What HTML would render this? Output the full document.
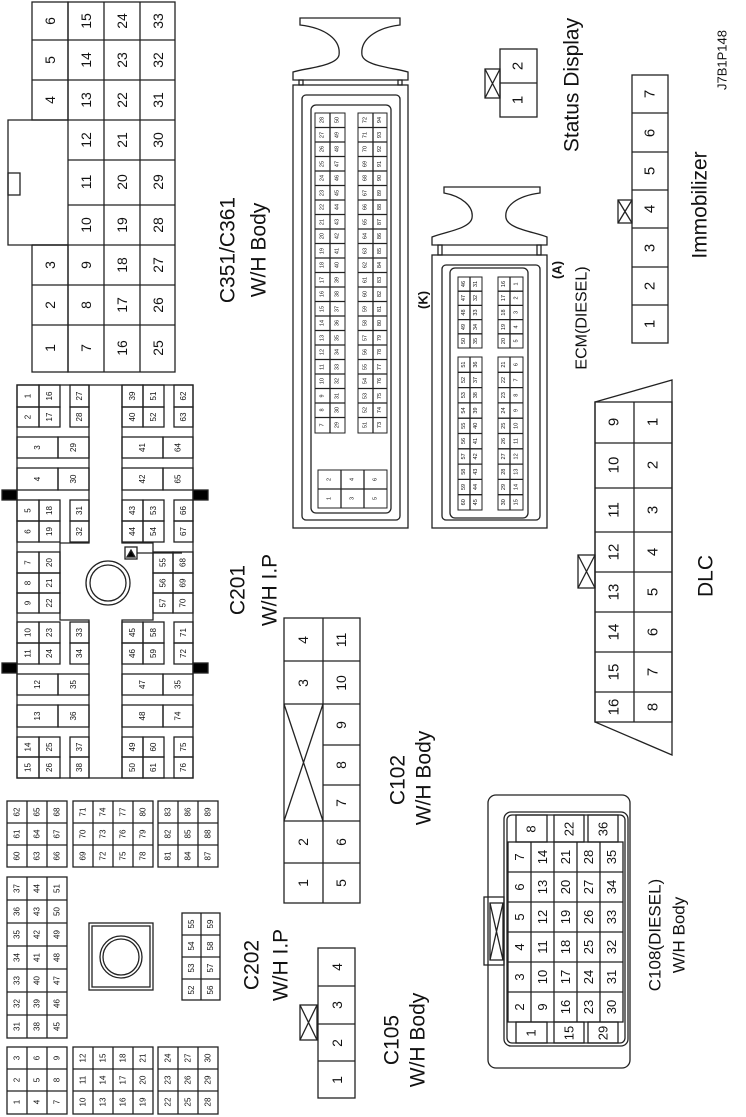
<!DOCTYPE html>
<html><head><meta charset="utf-8"><style>
html,body{margin:0;padding:0;background:#fff}
svg{display:block}
text{font-family:"Liberation Sans",Arial,sans-serif;text-anchor:middle;dominant-baseline:central;fill:#111}
rect,path,line,circle,polyline{fill:none;stroke:#222;stroke-width:1.3}
.s8 text{font-size:8px}
.s14 text{font-size:14px}
.s5 text{font-size:5.5px}
.s5 rect{stroke-width:1}
.big{font-size:21px}
</style></head><body>
<svg width="746" height="1117" viewBox="0 0 746 1117" xmlns="http://www.w3.org/2000/svg">

<!-- C351/C361 -->
<g class="s14">
<rect x="68" y="2" width="107" height="370"/>
<rect x="32" y="2" width="36" height="118"/>
<rect x="32" y="245" width="36" height="127"/>
<path d="M68,120 H8 V245 H68"/>
<rect x="8" y="173" width="12" height="22"/>
<path d="M32,40H175M32,80H175M68,120H175M68,160H175M68,205H175M32,245H175M32,285H175M32,325H175M104,2V372M140,2V372"/>
<text transform="translate(50,21)rotate(-90)">6</text><text transform="translate(50,60)rotate(-90)">5</text><text transform="translate(50,100)rotate(-90)">4</text>
<text transform="translate(50,265)rotate(-90)">3</text><text transform="translate(50,305)rotate(-90)">2</text><text transform="translate(50,348)rotate(-90)">1</text>
<text transform="translate(86,21)rotate(-90)">15</text><text transform="translate(86,60)rotate(-90)">14</text><text transform="translate(86,100)rotate(-90)">13</text><text transform="translate(86,140)rotate(-90)">12</text><text transform="translate(86,182)rotate(-90)">11</text><text transform="translate(86,225)rotate(-90)">10</text><text transform="translate(86,265)rotate(-90)">9</text><text transform="translate(86,305)rotate(-90)">8</text><text transform="translate(86,348)rotate(-90)">7</text>
<text transform="translate(122,21)rotate(-90)">24</text><text transform="translate(122,60)rotate(-90)">23</text><text transform="translate(122,100)rotate(-90)">22</text><text transform="translate(122,140)rotate(-90)">21</text><text transform="translate(122,182)rotate(-90)">20</text><text transform="translate(122,225)rotate(-90)">19</text><text transform="translate(122,265)rotate(-90)">18</text><text transform="translate(122,305)rotate(-90)">17</text><text transform="translate(122,348)rotate(-90)">16</text>
<text transform="translate(158,21)rotate(-90)">33</text><text transform="translate(158,60)rotate(-90)">32</text><text transform="translate(158,100)rotate(-90)">31</text><text transform="translate(158,140)rotate(-90)">30</text><text transform="translate(158,182)rotate(-90)">29</text><text transform="translate(158,225)rotate(-90)">28</text><text transform="translate(158,265)rotate(-90)">27</text><text transform="translate(158,305)rotate(-90)">26</text><text transform="translate(158,348)rotate(-90)">25</text>
</g>
<text class="big" transform="translate(228,250)rotate(-90)">C351/C361</text>
<text class="big" transform="translate(259,250)rotate(-90)">W/H Body</text>

<!-- C201 -->
<g class="s8">
<rect x="17" y="385" width="176" height="393"/>
<path d="M89,385V543H60V620H89V778M122,385V543H153V620H122V778"/>
<rect x="2" y="490" width="15" height="10" style="fill:#000"/><rect x="2" y="663" width="15" height="10" style="fill:#000"/>
<rect x="193" y="490" width="15" height="10" style="fill:#000"/><rect x="193" y="663" width="15" height="10" style="fill:#000"/>
<circle cx="108" cy="583" r="22"/><circle cx="108" cy="583" r="18"/>
<rect x="125" y="547" width="12" height="12"/><path d="M127,557L131,550L135,557Z" style="fill:#000"/><path d="M137,553H182"/>
<!-- left -->
<rect x="17" y="385" width="22" height="22"/><rect x="39" y="385" width="21" height="22"/><rect x="70" y="385" width="19" height="22"/>
<text transform="translate(28,396)rotate(-90)">1</text><text transform="translate(49.5,396)rotate(-90)">16</text><text transform="translate(79.5,396)rotate(-90)">27</text>
<rect x="17" y="407" width="22" height="20"/><rect x="39" y="407" width="21" height="20"/><rect x="70" y="407" width="19" height="20"/>
<text transform="translate(28,417)rotate(-90)">2</text><text transform="translate(49.5,417)rotate(-90)">17</text><text transform="translate(79.5,417)rotate(-90)">28</text>
<rect x="17" y="437" width="41" height="21"/><rect x="58" y="437" width="31" height="21"/>
<text transform="translate(37.5,447.5)rotate(-90)">3</text><text transform="translate(73.5,447.5)rotate(-90)">29</text>
<rect x="17" y="468" width="41" height="22"/><rect x="58" y="468" width="31" height="22"/>
<text transform="translate(37.5,479)rotate(-90)">4</text><text transform="translate(73.5,479)rotate(-90)">30</text>
<rect x="17" y="500" width="22" height="21"/><rect x="39" y="500" width="21" height="21"/><rect x="70" y="500" width="19" height="21"/>
<text transform="translate(28,510.5)rotate(-90)">5</text><text transform="translate(49.5,510.5)rotate(-90)">18</text><text transform="translate(79.5,510.5)rotate(-90)">31</text>
<rect x="17" y="521" width="22" height="21"/><rect x="39" y="521" width="21" height="21"/><rect x="70" y="521" width="19" height="21"/>
<text transform="translate(28,531.5)rotate(-90)">6</text><text transform="translate(49.5,531.5)rotate(-90)">19</text><text transform="translate(79.5,531.5)rotate(-90)">32</text>
<rect x="17" y="552" width="22" height="21"/><rect x="39" y="552" width="21" height="21"/>
<text transform="translate(28,562.5)rotate(-90)">7</text><text transform="translate(49.5,562.5)rotate(-90)">20</text>
<rect x="17" y="573" width="22" height="20"/><rect x="39" y="573" width="21" height="20"/>
<text transform="translate(28,583)rotate(-90)">8</text><text transform="translate(49.5,583)rotate(-90)">21</text>
<rect x="17" y="593" width="22" height="20"/><rect x="39" y="593" width="21" height="20"/>
<text transform="translate(28,603)rotate(-90)">9</text><text transform="translate(49.5,603)rotate(-90)">22</text>
<rect x="17" y="622" width="22" height="21"/><rect x="39" y="622" width="21" height="21"/><rect x="70" y="622" width="19" height="21"/>
<text transform="translate(28,632.5)rotate(-90)">10</text><text transform="translate(49.5,632.5)rotate(-90)">23</text><text transform="translate(79.5,632.5)rotate(-90)">33</text>
<rect x="17" y="643" width="22" height="21"/><rect x="39" y="643" width="21" height="21"/><rect x="70" y="643" width="19" height="21"/>
<text transform="translate(28,653.5)rotate(-90)">11</text><text transform="translate(49.5,653.5)rotate(-90)">24</text><text transform="translate(79.5,653.5)rotate(-90)">34</text>
<rect x="17" y="674" width="41" height="21"/><rect x="58" y="674" width="31" height="21"/>
<text transform="translate(37.5,684.5)rotate(-90)">12</text><text transform="translate(73.5,684.5)rotate(-90)">35</text>
<rect x="17" y="705" width="41" height="22"/><rect x="58" y="705" width="31" height="22"/>
<text transform="translate(37.5,716)rotate(-90)">13</text><text transform="translate(73.5,716)rotate(-90)">36</text>
<rect x="17" y="737" width="22" height="20"/><rect x="39" y="737" width="21" height="20"/><rect x="70" y="737" width="19" height="20"/>
<text transform="translate(28,747)rotate(-90)">14</text><text transform="translate(49.5,747)rotate(-90)">25</text><text transform="translate(79.5,747)rotate(-90)">37</text>
<rect x="17" y="757" width="22" height="21"/><rect x="39" y="757" width="21" height="21"/><rect x="70" y="757" width="19" height="21"/>
<text transform="translate(28,767.5)rotate(-90)">15</text><text transform="translate(49.5,767.5)rotate(-90)">26</text><text transform="translate(79.5,767.5)rotate(-90)">38</text>
<!-- right -->
<rect x="122" y="385" width="21" height="22"/><rect x="143" y="385" width="21" height="22"/><rect x="174" y="385" width="19" height="22"/>
<text transform="translate(132.5,396)rotate(-90)">39</text><text transform="translate(153.5,396)rotate(-90)">51</text><text transform="translate(183.5,396)rotate(-90)">62</text>
<rect x="122" y="407" width="21" height="20"/><rect x="143" y="407" width="21" height="20"/><rect x="174" y="407" width="19" height="20"/>
<text transform="translate(132.5,417)rotate(-90)">40</text><text transform="translate(153.5,417)rotate(-90)">52</text><text transform="translate(183.5,417)rotate(-90)">63</text>
<rect x="122" y="437" width="41" height="21"/><rect x="163" y="437" width="30" height="21"/>
<text transform="translate(142.5,447.5)rotate(-90)">41</text><text transform="translate(178,447.5)rotate(-90)">64</text>
<rect x="122" y="468" width="41" height="22"/><rect x="163" y="468" width="30" height="22"/>
<text transform="translate(142.5,479)rotate(-90)">42</text><text transform="translate(178,479)rotate(-90)">65</text>
<rect x="122" y="500" width="21" height="21"/><rect x="143" y="500" width="21" height="21"/><rect x="174" y="500" width="19" height="21"/>
<text transform="translate(132.5,510.5)rotate(-90)">43</text><text transform="translate(153.5,510.5)rotate(-90)">53</text><text transform="translate(183.5,510.5)rotate(-90)">66</text>
<rect x="122" y="521" width="21" height="21"/><rect x="143" y="521" width="21" height="21"/><rect x="174" y="521" width="19" height="21"/>
<text transform="translate(132.5,531.5)rotate(-90)">44</text><text transform="translate(153.5,531.5)rotate(-90)">54</text><text transform="translate(183.5,531.5)rotate(-90)">67</text>
<rect x="153" y="552" width="20" height="21"/><rect x="173" y="552" width="20" height="21"/>
<text transform="translate(163,562.5)rotate(-90)">55</text><text transform="translate(183,562.5)rotate(-90)">68</text>
<rect x="153" y="573" width="20" height="20"/><rect x="173" y="573" width="20" height="20"/>
<text transform="translate(163,583)rotate(-90)">56</text><text transform="translate(183,583)rotate(-90)">69</text>
<rect x="153" y="593" width="20" height="20"/><rect x="173" y="593" width="20" height="20"/>
<text transform="translate(163,603)rotate(-90)">57</text><text transform="translate(183,603)rotate(-90)">70</text>
<rect x="122" y="622" width="21" height="21"/><rect x="143" y="622" width="21" height="21"/><rect x="174" y="622" width="19" height="21"/>
<text transform="translate(132.5,632.5)rotate(-90)">45</text><text transform="translate(153.5,632.5)rotate(-90)">58</text><text transform="translate(183.5,632.5)rotate(-90)">71</text>
<rect x="122" y="643" width="21" height="21"/><rect x="143" y="643" width="21" height="21"/><rect x="174" y="643" width="19" height="21"/>
<text transform="translate(132.5,653.5)rotate(-90)">46</text><text transform="translate(153.5,653.5)rotate(-90)">59</text><text transform="translate(183.5,653.5)rotate(-90)">72</text>
<rect x="122" y="674" width="41" height="21"/><rect x="163" y="674" width="30" height="21"/>
<text transform="translate(142.5,684.5)rotate(-90)">47</text><text transform="translate(178,684.5)rotate(-90)">35</text>
<rect x="122" y="705" width="41" height="22"/><rect x="163" y="705" width="30" height="22"/>
<text transform="translate(142.5,716)rotate(-90)">48</text><text transform="translate(178,716)rotate(-90)">74</text>
<rect x="122" y="737" width="21" height="20"/><rect x="143" y="737" width="21" height="20"/><rect x="174" y="737" width="19" height="20"/>
<text transform="translate(132.5,747)rotate(-90)">49</text><text transform="translate(153.5,747)rotate(-90)">60</text><text transform="translate(183.5,747)rotate(-90)">75</text>
<rect x="122" y="757" width="21" height="21"/><rect x="143" y="757" width="21" height="21"/><rect x="174" y="757" width="19" height="21"/>
<text transform="translate(132.5,767.5)rotate(-90)">50</text><text transform="translate(153.5,767.5)rotate(-90)">61</text><text transform="translate(183.5,767.5)rotate(-90)">76</text>
</g>
<text class="big" transform="translate(238,590)rotate(-90)">C201</text>
<text class="big" transform="translate(270,590)rotate(-90)">W/H I.P</text>

<!-- C202 -->
<g class="s8">
<rect x="7" y="801" width="60" height="66"/><path d="M27,801V867M47,801V867M7,823H67M7,845H67"/>
<text transform="translate(17,812)rotate(-90)">62</text><text transform="translate(37,812)rotate(-90)">65</text><text transform="translate(57,812)rotate(-90)">68</text>
<text transform="translate(17,834)rotate(-90)">61</text><text transform="translate(37,834)rotate(-90)">64</text><text transform="translate(57,834)rotate(-90)">67</text>
<text transform="translate(17,856)rotate(-90)">60</text><text transform="translate(37,856)rotate(-90)">63</text><text transform="translate(57,856)rotate(-90)">66</text>
<rect x="73" y="801" width="80" height="66"/><path d="M93,801V867M113,801V867M133,801V867M73,823H153M73,845H153"/>
<text transform="translate(83,812)rotate(-90)">71</text><text transform="translate(103,812)rotate(-90)">74</text><text transform="translate(123,812)rotate(-90)">77</text><text transform="translate(143,812)rotate(-90)">80</text>
<text transform="translate(83,834)rotate(-90)">70</text><text transform="translate(103,834)rotate(-90)">73</text><text transform="translate(123,834)rotate(-90)">76</text><text transform="translate(143,834)rotate(-90)">79</text>
<text transform="translate(83,856)rotate(-90)">69</text><text transform="translate(103,856)rotate(-90)">72</text><text transform="translate(123,856)rotate(-90)">75</text><text transform="translate(143,856)rotate(-90)">78</text>
<rect x="158" y="801" width="60" height="66"/><path d="M178,801V867M198,801V867M158,823H218M158,845H218"/>
<text transform="translate(168,812)rotate(-90)">83</text><text transform="translate(188,812)rotate(-90)">86</text><text transform="translate(208,812)rotate(-90)">89</text>
<text transform="translate(168,834)rotate(-90)">82</text><text transform="translate(188,834)rotate(-90)">85</text><text transform="translate(208,834)rotate(-90)">88</text>
<text transform="translate(168,856)rotate(-90)">81</text><text transform="translate(188,856)rotate(-90)">84</text><text transform="translate(208,856)rotate(-90)">87</text>
<rect x="7" y="877" width="60" height="161"/><path d="M27,877V1038M47,877V1038M7,900H67M7,923H67M7,946H67M7,969H67M7,992H67M7,1015H67"/>
<text transform="translate(17,888.5)rotate(-90)">37</text><text transform="translate(37,888.5)rotate(-90)">44</text><text transform="translate(57,888.5)rotate(-90)">51</text>
<text transform="translate(17,911.5)rotate(-90)">36</text><text transform="translate(37,911.5)rotate(-90)">43</text><text transform="translate(57,911.5)rotate(-90)">50</text>
<text transform="translate(17,934.5)rotate(-90)">35</text><text transform="translate(37,934.5)rotate(-90)">42</text><text transform="translate(57,934.5)rotate(-90)">49</text>
<text transform="translate(17,957.5)rotate(-90)">34</text><text transform="translate(37,957.5)rotate(-90)">41</text><text transform="translate(57,957.5)rotate(-90)">48</text>
<text transform="translate(17,980.5)rotate(-90)">33</text><text transform="translate(37,980.5)rotate(-90)">40</text><text transform="translate(57,980.5)rotate(-90)">47</text>
<text transform="translate(17,1003.5)rotate(-90)">32</text><text transform="translate(37,1003.5)rotate(-90)">39</text><text transform="translate(57,1003.5)rotate(-90)">46</text>
<text transform="translate(17,1026.5)rotate(-90)">31</text><text transform="translate(37,1026.5)rotate(-90)">38</text><text transform="translate(57,1026.5)rotate(-90)">45</text>
<rect x="89" y="923" width="64" height="67"/><rect x="92" y="926" width="58" height="61"/>
<circle cx="121" cy="957" r="21"/><circle cx="121" cy="957" r="18"/>
<rect x="182" y="913" width="38" height="87"/><path d="M201,913V1000M182,935H220M182,957H220M182,979H220"/>
<text transform="translate(191.5,924)rotate(-90)">55</text><text transform="translate(210.5,924)rotate(-90)">59</text>
<text transform="translate(191.5,946)rotate(-90)">54</text><text transform="translate(210.5,946)rotate(-90)">58</text>
<text transform="translate(191.5,968)rotate(-90)">53</text><text transform="translate(210.5,968)rotate(-90)">57</text>
<text transform="translate(191.5,990)rotate(-90)">52</text><text transform="translate(210.5,990)rotate(-90)">56</text>
<rect x="7" y="1047" width="60" height="67"/><path d="M27,1047V1114M47,1047V1114M7,1069H67M7,1091H67"/>
<text transform="translate(17,1058)rotate(-90)">3</text><text transform="translate(37,1058)rotate(-90)">6</text><text transform="translate(57,1058)rotate(-90)">9</text>
<text transform="translate(17,1080)rotate(-90)">2</text><text transform="translate(37,1080)rotate(-90)">5</text><text transform="translate(57,1080)rotate(-90)">8</text>
<text transform="translate(17,1102)rotate(-90)">1</text><text transform="translate(37,1102)rotate(-90)">4</text><text transform="translate(57,1102)rotate(-90)">7</text>
<rect x="73" y="1047" width="80" height="67"/><path d="M93,1047V1114M113,1047V1114M133,1047V1114M73,1069H153M73,1091H153"/>
<text transform="translate(83,1058)rotate(-90)">12</text><text transform="translate(103,1058)rotate(-90)">15</text><text transform="translate(123,1058)rotate(-90)">18</text><text transform="translate(143,1058)rotate(-90)">21</text>
<text transform="translate(83,1080)rotate(-90)">11</text><text transform="translate(103,1080)rotate(-90)">14</text><text transform="translate(123,1080)rotate(-90)">17</text><text transform="translate(143,1080)rotate(-90)">20</text>
<text transform="translate(83,1102)rotate(-90)">10</text><text transform="translate(103,1102)rotate(-90)">13</text><text transform="translate(123,1102)rotate(-90)">16</text><text transform="translate(143,1102)rotate(-90)">19</text>
<rect x="158" y="1047" width="60" height="67"/><path d="M178,1047V1114M198,1047V1114M158,1069H218M158,1091H218"/>
<text transform="translate(168,1058)rotate(-90)">24</text><text transform="translate(188,1058)rotate(-90)">27</text><text transform="translate(208,1058)rotate(-90)">30</text>
<text transform="translate(168,1080)rotate(-90)">23</text><text transform="translate(188,1080)rotate(-90)">26</text><text transform="translate(208,1080)rotate(-90)">29</text>
<text transform="translate(168,1102)rotate(-90)">22</text><text transform="translate(188,1102)rotate(-90)">25</text><text transform="translate(208,1102)rotate(-90)">28</text>
</g>
<text class="big" transform="translate(252,965)rotate(-90)">C202</text>
<text class="big" transform="translate(281,965)rotate(-90)">W/H I.P</text>

<!-- C102 -->
<g class="s14">
<rect x="284" y="618" width="76" height="285"/>
<path d="M323,618V903M284,661H360M284,704H360M323,745H360M323,785H360M284,821H360M284,863H360M284,704L323,821M323,704L284,821"/>
<text transform="translate(303,640)rotate(-90)">4</text><text transform="translate(303,683)rotate(-90)">3</text><text transform="translate(303,842)rotate(-90)">2</text><text transform="translate(303,883)rotate(-90)">1</text>
<text transform="translate(341,640)rotate(-90)">11</text><text transform="translate(341,683)rotate(-90)">10</text><text transform="translate(341,725)rotate(-90)">9</text><text transform="translate(341,765)rotate(-90)">8</text><text transform="translate(341,803)rotate(-90)">7</text><text transform="translate(341,842)rotate(-90)">6</text><text transform="translate(341,883)rotate(-90)">5</text>
</g>
<text class="big" transform="translate(398,780)rotate(-90)">C102</text>
<text class="big" transform="translate(424,778)rotate(-90)">W/H Body</text>

<!-- C105 -->
<g class="s14">
<rect x="318" y="948" width="37" height="150"/>
<path d="M318,986H355M318,1024H355M318,1061H355"/>
<rect x="300" y="1005" width="17" height="35"/><path d="M300,1005L317,1040M317,1005L300,1040"/>
<text transform="translate(337,967)rotate(-90)">4</text><text transform="translate(337,1005)rotate(-90)">3</text><text transform="translate(337,1043)rotate(-90)">2</text><text transform="translate(337,1080)rotate(-90)">1</text>
</g>
<text class="big" transform="translate(392,1040)rotate(-90)">C105</text>
<text class="big" transform="translate(418,1040)rotate(-90)">W/H Body</text>

<!-- C108 -->
<g style="font-size:13px">
<rect x="488" y="795" width="142" height="273" rx="8"/>
<rect x="504" y="812" width="124" height="234" rx="7"/>
<rect x="507" y="815" width="118" height="228" rx="5"/>
<rect x="484" y="897" width="20" height="68"/>
<rect x="490" y="903" width="13" height="57"/><path d="M490,903L503,960M503,903L490,960"/>
<rect x="508" y="842" width="115" height="180"/>
<path d="M531,842V1022M554,842V1022M577,842V1022M600,842V1022M508,872H623M508,902H623M508,932H623M508,962H623M508,992H623"/>
<rect x="516" y="815" width="31" height="27"/><rect x="554" y="815" width="30" height="27"/><rect x="588" y="815" width="30" height="27"/>
<rect x="516" y="1022" width="31" height="21"/><rect x="554" y="1022" width="30" height="21"/><rect x="588" y="1022" width="30" height="21"/>
<text transform="translate(531,829)rotate(-90)">8</text><text transform="translate(569,829)rotate(-90)">22</text><text transform="translate(603,829)rotate(-90)">36</text>
<text transform="translate(531,1033)rotate(-90)">1</text><text transform="translate(569,1033)rotate(-90)">15</text><text transform="translate(603,1033)rotate(-90)">29</text>
<text transform="translate(519.5,857)rotate(-90)">7</text><text transform="translate(519.5,887)rotate(-90)">6</text><text transform="translate(519.5,917)rotate(-90)">5</text><text transform="translate(519.5,947)rotate(-90)">4</text><text transform="translate(519.5,977)rotate(-90)">3</text><text transform="translate(519.5,1007)rotate(-90)">2</text>
<text transform="translate(542.5,857)rotate(-90)">14</text><text transform="translate(542.5,887)rotate(-90)">13</text><text transform="translate(542.5,917)rotate(-90)">12</text><text transform="translate(542.5,947)rotate(-90)">11</text><text transform="translate(542.5,977)rotate(-90)">10</text><text transform="translate(542.5,1007)rotate(-90)">9</text>
<text transform="translate(565.5,857)rotate(-90)">21</text><text transform="translate(565.5,887)rotate(-90)">20</text><text transform="translate(565.5,917)rotate(-90)">19</text><text transform="translate(565.5,947)rotate(-90)">18</text><text transform="translate(565.5,977)rotate(-90)">17</text><text transform="translate(565.5,1007)rotate(-90)">16</text>
<text transform="translate(588.5,857)rotate(-90)">28</text><text transform="translate(588.5,887)rotate(-90)">27</text><text transform="translate(588.5,917)rotate(-90)">26</text><text transform="translate(588.5,947)rotate(-90)">25</text><text transform="translate(588.5,977)rotate(-90)">24</text><text transform="translate(588.5,1007)rotate(-90)">23</text>
<text transform="translate(611.5,857)rotate(-90)">35</text><text transform="translate(611.5,887)rotate(-90)">34</text><text transform="translate(611.5,917)rotate(-90)">33</text><text transform="translate(611.5,947)rotate(-90)">32</text><text transform="translate(611.5,977)rotate(-90)">31</text><text transform="translate(611.5,1007)rotate(-90)">30</text>
</g>
<text transform="translate(655,935)rotate(-90)" style="font-size:17px">C108(DIESEL)</text>
<text transform="translate(679,935)rotate(-90)" style="font-size:17px">W/H Body</text>

<!-- DLC -->
<g style="font-size:15px">
<path d="M595,402L672,380V755L595,722Z"/>
<rect x="595" y="402" width="77" height="320"/>
<path d="M634,402V722M595,443H672M595,488H672M595,532H672M595,572H672M595,612H672M595,652H672M595,692H672"/>
<rect x="578" y="555" width="17" height="33"/><path d="M578,555L595,588M595,555L578,588"/>
<text transform="translate(614,422)rotate(-90)">9</text><text transform="translate(614,465)rotate(-90)">10</text><text transform="translate(614,510)rotate(-90)">11</text><text transform="translate(614,552)rotate(-90)">12</text><text transform="translate(614,592)rotate(-90)">13</text><text transform="translate(614,632)rotate(-90)">14</text><text transform="translate(614,672)rotate(-90)">15</text><text transform="translate(614,707)rotate(-90)">16</text>
<text transform="translate(653,422)rotate(-90)">1</text><text transform="translate(653,465)rotate(-90)">2</text><text transform="translate(653,510)rotate(-90)">3</text><text transform="translate(653,552)rotate(-90)">4</text><text transform="translate(653,592)rotate(-90)">5</text><text transform="translate(653,632)rotate(-90)">6</text><text transform="translate(653,672)rotate(-90)">7</text><text transform="translate(653,707)rotate(-90)">8</text>
</g>
<text class="big" transform="translate(706,576)rotate(-90)">DLC</text>

<!-- Immobilizer -->
<g style="font-size:15px">
<rect x="632" y="75" width="36" height="268"/>
<path d="M632,113H668M632,152H668M632,190H668M632,228H668M632,267H668M632,305H668"/>
<rect x="618" y="200" width="14" height="23"/><path d="M618,200L632,223M632,200L618,223"/>
<text transform="translate(650,94)rotate(-90)">7</text><text transform="translate(650,133)rotate(-90)">6</text><text transform="translate(650,171)rotate(-90)">5</text><text transform="translate(650,209)rotate(-90)">4</text><text transform="translate(650,248)rotate(-90)">3</text><text transform="translate(650,286)rotate(-90)">2</text><text transform="translate(650,324)rotate(-90)">1</text>
</g>
<text class="big" transform="translate(700,205)rotate(-90)">Immobilizer</text>
<text transform="translate(722,60)rotate(-90)" style="font-size:13px">J7B1P148</text>

<!-- Status Display -->
<g style="font-size:15px">
<rect x="500" y="49" width="37" height="68"/><path d="M500,83H537"/>
<rect x="485" y="69" width="15" height="29"/><path d="M485,69L500,98M500,69L485,98"/>
<text transform="translate(518,66)rotate(-90)">2</text><text transform="translate(518,100)rotate(-90)">1</text>
</g>
<text class="big" transform="translate(572,85)rotate(-90)">Status Display</text>

<!-- ECM K -->
<path d="M300,18H400V25C375,28 360,40 362,55C364,66 395,68 408,72V80H293V72C306,68 337,66 339,55C341,40 326,28 300,25Z"/>
<rect x="299" y="80" width="4" height="5"/><rect x="398" y="80" width="4" height="5"/>
<rect x="293" y="85" width="115" height="443"/>
<rect x="302" y="95" width="98" height="425" rx="4"/>
<rect x="311" y="105" width="80" height="408" rx="5"/>
<g class="s5">
<rect x="315" y="113" width="30" height="320"/><rect x="358" y="113" width="29" height="320"/>
<path d="M330,113V433M373,113V433M315,127.5H345M315,142H345M315,156.5H345M315,171H345M315,185.5H345M315,200H345M315,214.5H345M315,229H345M315,243.5H345M315,258H345M315,272.5H345M315,287H345M315,301.5H345M315,316H345M315,330.5H345M315,345H345M315,359.5H345M315,374H345M315,388.5H345M315,403H345M315,417.5H345"/>
<path d="M358,127.5H387M358,142H387M358,156.5H387M358,171H387M358,185.5H387M358,200H387M358,214.5H387M358,229H387M358,243.5H387M358,258H387M358,272.5H387M358,287H387M358,301.5H387M358,316H387M358,330.5H387M358,345H387M358,359.5H387M358,374H387M358,388.5H387M358,403H387M358,417.5H387"/>
<text transform="translate(322.5,120)rotate(-90)">28</text><text transform="translate(322.5,135)rotate(-90)">27</text><text transform="translate(322.5,149)rotate(-90)">26</text><text transform="translate(322.5,164)rotate(-90)">25</text><text transform="translate(322.5,178)rotate(-90)">24</text><text transform="translate(322.5,193)rotate(-90)">23</text><text transform="translate(322.5,207)rotate(-90)">22</text><text transform="translate(322.5,222)rotate(-90)">21</text><text transform="translate(322.5,236)rotate(-90)">20</text><text transform="translate(322.5,251)rotate(-90)">19</text><text transform="translate(322.5,265)rotate(-90)">18</text><text transform="translate(322.5,280)rotate(-90)">17</text><text transform="translate(322.5,294)rotate(-90)">16</text><text transform="translate(322.5,309)rotate(-90)">15</text><text transform="translate(322.5,323)rotate(-90)">14</text><text transform="translate(322.5,338)rotate(-90)">13</text><text transform="translate(322.5,352)rotate(-90)">12</text><text transform="translate(322.5,367)rotate(-90)">11</text><text transform="translate(322.5,381)rotate(-90)">10</text><text transform="translate(322.5,396)rotate(-90)">9</text><text transform="translate(322.5,410)rotate(-90)">8</text><text transform="translate(322.5,425)rotate(-90)">7</text>
<text transform="translate(337.5,120)rotate(-90)">50</text><text transform="translate(337.5,135)rotate(-90)">49</text><text transform="translate(337.5,149)rotate(-90)">48</text><text transform="translate(337.5,164)rotate(-90)">47</text><text transform="translate(337.5,178)rotate(-90)">46</text><text transform="translate(337.5,193)rotate(-90)">45</text><text transform="translate(337.5,207)rotate(-90)">44</text><text transform="translate(337.5,222)rotate(-90)">43</text><text transform="translate(337.5,236)rotate(-90)">42</text><text transform="translate(337.5,251)rotate(-90)">41</text><text transform="translate(337.5,265)rotate(-90)">40</text><text transform="translate(337.5,280)rotate(-90)">39</text><text transform="translate(337.5,294)rotate(-90)">38</text><text transform="translate(337.5,309)rotate(-90)">37</text><text transform="translate(337.5,323)rotate(-90)">36</text><text transform="translate(337.5,338)rotate(-90)">35</text><text transform="translate(337.5,352)rotate(-90)">34</text><text transform="translate(337.5,367)rotate(-90)">33</text><text transform="translate(337.5,381)rotate(-90)">32</text><text transform="translate(337.5,396)rotate(-90)">31</text><text transform="translate(337.5,410)rotate(-90)">30</text><text transform="translate(337.5,425)rotate(-90)">29</text>
<text transform="translate(365.5,120)rotate(-90)">72</text><text transform="translate(365.5,135)rotate(-90)">71</text><text transform="translate(365.5,149)rotate(-90)">70</text><text transform="translate(365.5,164)rotate(-90)">69</text><text transform="translate(365.5,178)rotate(-90)">68</text><text transform="translate(365.5,193)rotate(-90)">67</text><text transform="translate(365.5,207)rotate(-90)">66</text><text transform="translate(365.5,222)rotate(-90)">65</text><text transform="translate(365.5,236)rotate(-90)">64</text><text transform="translate(365.5,251)rotate(-90)">63</text><text transform="translate(365.5,265)rotate(-90)">62</text><text transform="translate(365.5,280)rotate(-90)">61</text><text transform="translate(365.5,294)rotate(-90)">60</text><text transform="translate(365.5,309)rotate(-90)">59</text><text transform="translate(365.5,323)rotate(-90)">58</text><text transform="translate(365.5,338)rotate(-90)">57</text><text transform="translate(365.5,352)rotate(-90)">56</text><text transform="translate(365.5,367)rotate(-90)">55</text><text transform="translate(365.5,381)rotate(-90)">54</text><text transform="translate(365.5,396)rotate(-90)">53</text><text transform="translate(365.5,410)rotate(-90)">52</text><text transform="translate(365.5,425)rotate(-90)">51</text>
<text transform="translate(380,120)rotate(-90)">94</text><text transform="translate(380,135)rotate(-90)">93</text><text transform="translate(380,149)rotate(-90)">92</text><text transform="translate(380,164)rotate(-90)">91</text><text transform="translate(380,178)rotate(-90)">90</text><text transform="translate(380,193)rotate(-90)">89</text><text transform="translate(380,207)rotate(-90)">88</text><text transform="translate(380,222)rotate(-90)">87</text><text transform="translate(380,236)rotate(-90)">86</text><text transform="translate(380,251)rotate(-90)">85</text><text transform="translate(380,265)rotate(-90)">84</text><text transform="translate(380,280)rotate(-90)">83</text><text transform="translate(380,294)rotate(-90)">82</text><text transform="translate(380,309)rotate(-90)">81</text><text transform="translate(380,323)rotate(-90)">80</text><text transform="translate(380,338)rotate(-90)">79</text><text transform="translate(380,352)rotate(-90)">78</text><text transform="translate(380,367)rotate(-90)">77</text><text transform="translate(380,381)rotate(-90)">76</text><text transform="translate(380,396)rotate(-90)">75</text><text transform="translate(380,410)rotate(-90)">74</text><text transform="translate(380,425)rotate(-90)">73</text>
<rect x="318" y="470" width="69" height="38"/><path d="M341,470V508M364,470V508M318,489H387"/>
<text transform="translate(329.5,479.5)rotate(-90)">2</text><text transform="translate(352.5,479.5)rotate(-90)">4</text><text transform="translate(375.5,479.5)rotate(-90)">6</text>
<text transform="translate(329.5,498.5)rotate(-90)">1</text><text transform="translate(352.5,498.5)rotate(-90)">3</text><text transform="translate(375.5,498.5)rotate(-90)">5</text>
</g>
<text transform="translate(423,300)rotate(-90)" style="font-size:13px;font-weight:bold">(K)</text>

<!-- ECM A -->
<path d="M444,187H540V193C517,196 504,206 506,218C508,229 535,232 547,237V245H432V237C444,232 470,229 472,218C474,206 461,196 444,193Z"/>
<rect x="438" y="245" width="4" height="10"/><rect x="537" y="245" width="4" height="10"/>
<rect x="432" y="255" width="115" height="273"/>
<rect x="442" y="265" width="98" height="255" rx="4"/>
<rect x="450" y="268" width="78" height="250" rx="5"/>
<g class="s5">
<rect x="458" y="277" width="24" height="71"/><rect x="458" y="357" width="24" height="153"/>
<rect x="498" y="277" width="25" height="71"/><rect x="498" y="357" width="25" height="153"/>
<path d="M470,277V348M470,357V510M510,277V348M510,357V510"/>
<path d="M458,291.2H482M458,305.4H482M458,319.6H482M458,333.8H482M498,291.2H523M498,305.4H523M498,319.6H523M498,333.8H523"/>
<path d="M458,372.3H482M458,387.6H482M458,402.9H482M458,418.2H482M458,433.5H482M458,448.8H482M458,464.1H482M458,479.4H482M458,494.7H482M498,372.3H523M498,387.6H523M498,402.9H523M498,418.2H523M498,433.5H523M498,448.8H523M498,464.1H523M498,479.4H523M498,494.7H523"/>
<text transform="translate(464,284)rotate(-90)">46</text><text transform="translate(464,298)rotate(-90)">47</text><text transform="translate(464,312.5)rotate(-90)">48</text><text transform="translate(464,327)rotate(-90)">49</text><text transform="translate(464,341)rotate(-90)">50</text>
<text transform="translate(476,284)rotate(-90)">31</text><text transform="translate(476,298)rotate(-90)">32</text><text transform="translate(476,312.5)rotate(-90)">33</text><text transform="translate(476,327)rotate(-90)">34</text><text transform="translate(476,341)rotate(-90)">35</text>
<text transform="translate(504,284)rotate(-90)">16</text><text transform="translate(504,298)rotate(-90)">17</text><text transform="translate(504,312.5)rotate(-90)">18</text><text transform="translate(504,327)rotate(-90)">19</text><text transform="translate(504,341)rotate(-90)">20</text>
<text transform="translate(516.5,284)rotate(-90)">1</text><text transform="translate(516.5,298)rotate(-90)">2</text><text transform="translate(516.5,312.5)rotate(-90)">3</text><text transform="translate(516.5,327)rotate(-90)">4</text><text transform="translate(516.5,341)rotate(-90)">5</text>
<text transform="translate(464,364.6)rotate(-90)">51</text><text transform="translate(464,380)rotate(-90)">52</text><text transform="translate(464,395.2)rotate(-90)">53</text><text transform="translate(464,410.5)rotate(-90)">54</text><text transform="translate(464,425.8)rotate(-90)">55</text><text transform="translate(464,441)rotate(-90)">56</text><text transform="translate(464,456.4)rotate(-90)">57</text><text transform="translate(464,471.7)rotate(-90)">58</text><text transform="translate(464,487)rotate(-90)">59</text><text transform="translate(464,502.3)rotate(-90)">60</text>
<text transform="translate(476,364.6)rotate(-90)">36</text><text transform="translate(476,380)rotate(-90)">37</text><text transform="translate(476,395.2)rotate(-90)">38</text><text transform="translate(476,410.5)rotate(-90)">39</text><text transform="translate(476,425.8)rotate(-90)">40</text><text transform="translate(476,441)rotate(-90)">41</text><text transform="translate(476,456.4)rotate(-90)">42</text><text transform="translate(476,471.7)rotate(-90)">43</text><text transform="translate(476,487)rotate(-90)">44</text><text transform="translate(476,502.3)rotate(-90)">45</text>
<text transform="translate(504,364.6)rotate(-90)">21</text><text transform="translate(504,380)rotate(-90)">22</text><text transform="translate(504,395.2)rotate(-90)">23</text><text transform="translate(504,410.5)rotate(-90)">24</text><text transform="translate(504,425.8)rotate(-90)">25</text><text transform="translate(504,441)rotate(-90)">26</text><text transform="translate(504,456.4)rotate(-90)">27</text><text transform="translate(504,471.7)rotate(-90)">28</text><text transform="translate(504,487)rotate(-90)">29</text><text transform="translate(504,502.3)rotate(-90)">30</text>
<text transform="translate(516.5,364.6)rotate(-90)">6</text><text transform="translate(516.5,380)rotate(-90)">7</text><text transform="translate(516.5,395.2)rotate(-90)">8</text><text transform="translate(516.5,410.5)rotate(-90)">9</text><text transform="translate(516.5,425.8)rotate(-90)">10</text><text transform="translate(516.5,441)rotate(-90)">11</text><text transform="translate(516.5,456.4)rotate(-90)">12</text><text transform="translate(516.5,471.7)rotate(-90)">13</text><text transform="translate(516.5,487)rotate(-90)">14</text><text transform="translate(516.5,502.3)rotate(-90)">15</text>
</g>
<text transform="translate(557,270)rotate(-90)" style="font-size:13px;font-weight:bold">(A)</text>
<text transform="translate(582,318)rotate(-90)" style="font-size:16px">ECM(DIESEL)</text>
</svg>
</body></html>
